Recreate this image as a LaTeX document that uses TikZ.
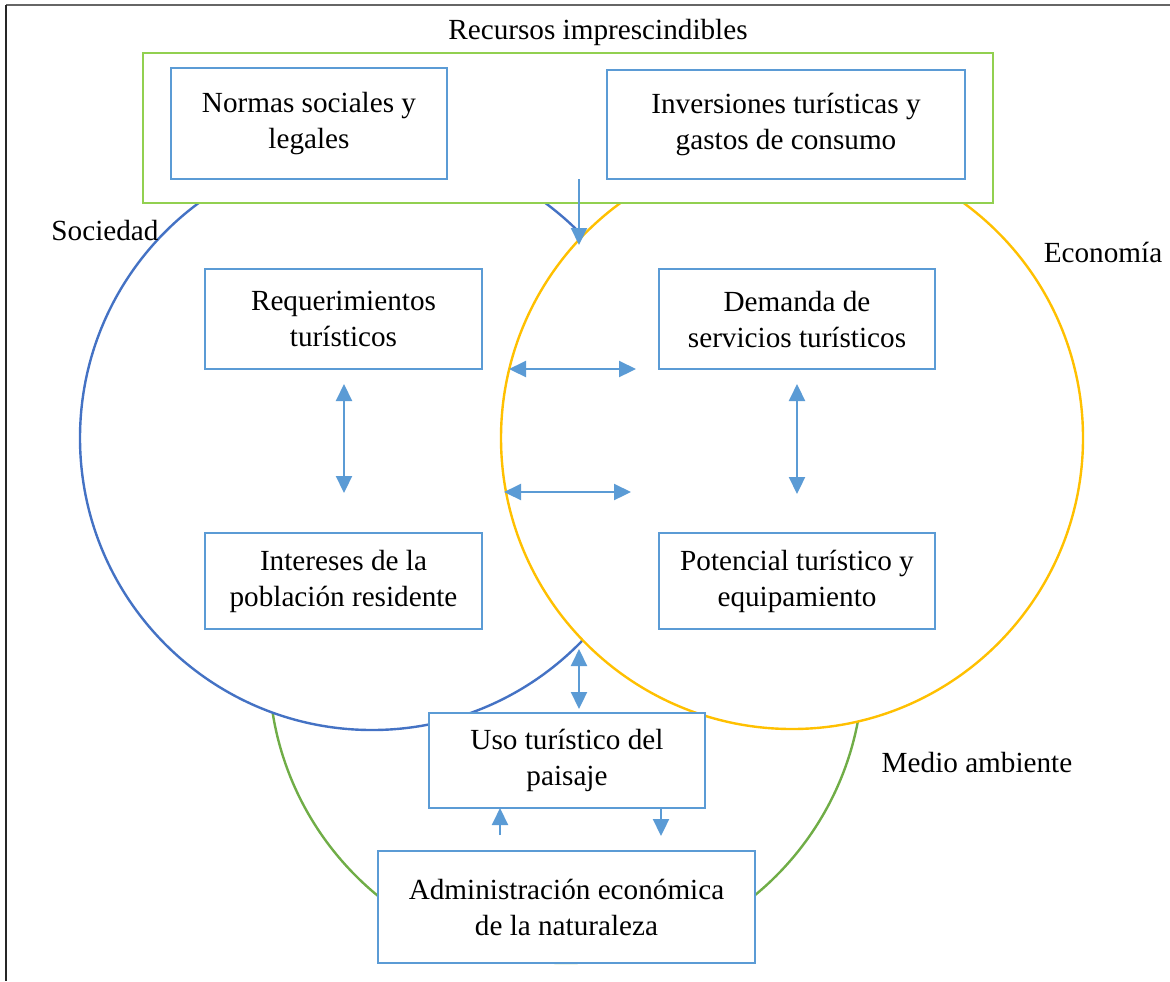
\documentclass[tikz,border=0pt]{standalone}
\usepackage{fontspec}
\setmainfont{Liberation Serif}
\usetikzlibrary{arrows.meta}
\definecolor{boxblue}{HTML}{5B9BD5}
\definecolor{socblue}{HTML}{4472C4}
\definecolor{ecoyellow}{HTML}{FFC000}
\definecolor{envgreen}{HTML}{70AD47}
\definecolor{resgreen}{HTML}{92D050}
\begin{document}
\begin{tikzpicture}[x=0.5pt,y=-0.5pt,
  txt/.style={font=\fontsize{14.6}{18}\selectfont, inner sep=0pt},
  box/.style={txt, draw=boxblue, line width=1.2pt, fill=white, align=center},
  circ/.style={line width=1.2pt},
  arr/.style={draw=boxblue, line width=1.1pt, -{Triangle[length=8.5pt,width=8pt]}},
  darr/.style={draw=boxblue, line width=1.1pt, {Triangle[length=8.5pt,width=8pt]}-{Triangle[length=8.5pt,width=8pt]}}]
\useasboundingbox (0,0) rectangle (1170,981);
% frame
\draw[draw=black!60, line width=1pt] (6,5) -- (1170,5);
\draw[draw=black!85, line width=1pt] (6,5) -- (6,981);
% circles
\draw[circ, draw=envgreen] (566,666) circle[radius=148.5pt];
\draw[circ, draw=socblue, fill=white] (372,438) circle[radius=146pt];
\draw[circ, draw=ecoyellow, fill=white] (792,438) circle[radius=145.5pt];
% resources box
\node[draw=resgreen, line width=1.2pt, fill=white, minimum width=425pt, minimum height=75pt, inner sep=0pt] (res) at (568,128) {};
\node[txt] (restitle) at (598,32) {Recursos imprescindibles};
% boxes
\node[box, minimum width=138pt, minimum height=55.5pt] (normas) at (309,123.5) {Normas sociales y\\legales};
\node[box, minimum width=179pt, minimum height=54.5pt] (inv) at (786,124.5) {Inversiones turísticas y\\gastos de consumo};
\node[box, minimum width=138.5pt, minimum height=50pt] (req) at (343.5,319) {Requerimientos\\turísticos};
\node[box, minimum width=138pt, minimum height=50pt] (dem) at (797,319) {Demanda de\\servicios turísticos};
\node[box, minimum width=138.5pt, minimum height=48pt] (int) at (343.5,581) {Intereses de la\\población residente};
\node[box, minimum width=138pt, minimum height=48pt] (pot) at (797,581) {Potencial turístico y\\equipamiento};
\node[box, minimum width=138pt, minimum height=47.5pt] (uso) at (567,760.5) {Uso turístico del\\paisaje};
\node[box, minimum width=188.5pt, minimum height=56pt] (adm) at (566.5,907) {Administración económica\\de la naturaleza};
% labels
\node[txt] (soc) at (105,231) {Sociedad};
\node[txt] (eco) at (1103,252) {Economía};
\node[txt] (med) at (977,762) {Medio ambiente};
% arrow end points
\coordinate (a1s) at (579,179);
\coordinate (a1e) at (579,245);
\coordinate (h1a) at (509,369);
\coordinate (h1b) at (636,369);
\coordinate (h2a) at (504,492);
\coordinate (h2b) at (631,492);
\coordinate (v1a) at (344,384);
\coordinate (v1b) at (344,493);
\coordinate (v2a) at (797,384);
\coordinate (v2b) at (797,494);
\coordinate (v3a) at (579,649);
\coordinate (v3b) at (579,709);
\coordinate (upa) at (500,835);
\coordinate (upb) at (500,808);
\coordinate (dna) at (661,808);
\coordinate (dnb) at (661,836);
% arrows
\draw[arr] (a1s) -- (a1e);
\draw[darr] (h1a) -- (h1b);
\draw[darr] (h2a) -- (h2b);
\draw[darr] (v1a) -- (v1b);
\draw[darr] (v2a) -- (v2b);
\draw[darr] (v3a) -- (v3b);
\draw[arr] (upa) -- (upb);
\draw[arr] (dna) -- (dnb);
\end{tikzpicture}
\end{document}
